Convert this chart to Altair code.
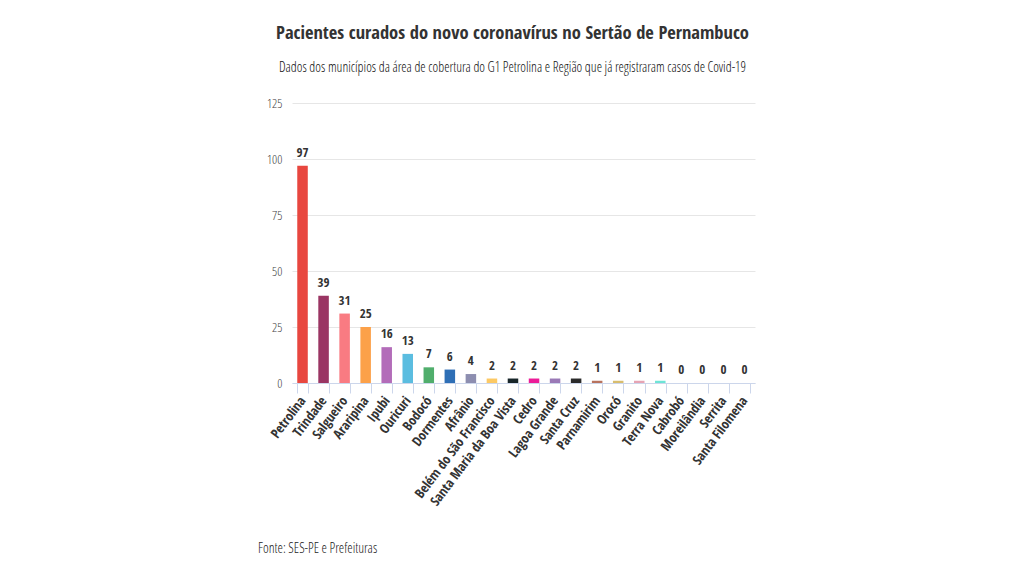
import altair as alt
import pandas as pd

cities = ["Petrolina", "Trindade", "Salgueiro", "Araripina", "Ipubi", "Ouricuri",
          "Bodocó", "Dormentes", "Afrânio", "Belém do São Francisco",
          "Santa Maria da Boa Vista", "Cedro", "Lagoa Grande", "Santa Cruz",
          "Parnamirim", "Orocó", "Granito", "Terra Nova", "Cabrobó",
          "Moreilândia", "Serrita", "Santa Filomena"]
values = [97, 39, 31, 25, 16, 13, 7, 6, 4, 2, 2, 2, 2, 2, 1, 1, 1, 1, 0, 0, 0, 0]
colors = ["#e8473f", "#9a3563", "#f97b82", "#fca149", "#b36cb9", "#5bbde0",
          "#50ae6c", "#2e6fb6", "#8d8eb0", "#fcc964", "#18262a", "#ec1c98",
          "#9a79b6", "#2b2b2b", "#b8735e", "#d8bd6e", "#e6a4b4", "#6ee4d6",
          "#cccccc", "#cccccc", "#cccccc", "#cccccc"]

df = pd.DataFrame({"city": cities, "value": values, "color": colors})

FONT = "Open Sans Condensed, Liberation Sans Narrow, DejaVu Sans Condensed, Roboto Condensed, Open Sans"
FONT_REG = "Open Sans Condensed Light, Open Sans Condensed"

W, H = 463, 280

base = alt.Chart(df)

x = alt.X("city:N", sort=cities, title=None,
          scale=alt.Scale(paddingInner=0.5, paddingOuter=0.25),
          axis=alt.Axis(labelAngle=-53, labelAlign="right", labelBaseline="middle",
                        labelFont=FONT, labelFontSize=13.5, labelFontWeight="bold",
                        labelColor="#333333", labelPadding=5,
                        tickBand="extent", tickSize=10, tickColor="#ccd6eb",
                        domainColor="#ccd6eb", grid=False))

bars = base.mark_bar().encode(
    x=x,
    y=alt.Y("value:Q", title=None,
            scale=alt.Scale(domain=[0, 125], nice=False),
            axis=alt.Axis(values=[0, 25, 50, 75, 100, 125], labelFont=FONT_REG,
                          labelFontSize=13, labelFontWeight=300,
                          labelColor="#444444", labelPadding=10,
                          domain=False, ticks=False, gridColor="#e6e6e6")),
    color=alt.Color("color:N", scale=None),
)

labels = base.mark_text(dy=-13, font=FONT, fontSize=13, fontWeight="bold",
                        color="#333333").encode(
    x=alt.X("city:N", sort=cities),
    y="value:Q",
    text="value:Q",
)

footer = alt.Chart(pd.DataFrame({"t": ["Fonte: SES-PE e Prefeituras"]})).mark_text(
    align="left", baseline="middle", font=FONT_REG, fontSize=13.8, fontWeight=300,
    color="#222222"
).encode(x=alt.value(-34), y=alt.value(446), text="t:N")

chart = alt.layer(bars, labels, footer).properties(
    width=W, height=H,
    title=alt.TitleParams(
        "Pacientes curados do novo coronavírus no Sertão de Pernambuco",
        subtitle="Dados dos municípios da área de cobertura do G1 Petrolina e Região que já registraram casos de Covid-19",
        font=FONT, fontSize=18.5, fontWeight="bold", color="#333333",
        subtitleFont=FONT_REG, subtitleFontSize=13.7, subtitleFontWeight=300,
        subtitleColor="#111111",
        subtitlePadding=19, anchor="middle", dx=-11, offset=22),
    autosize=alt.AutoSizeParams(type="none"),
    padding={"left": 284, "top": 95, "right": 250, "bottom": 180},
).configure_view(stroke=None)

chart.save("out.html", embed_options={"renderer": "svg", "actions": False})
